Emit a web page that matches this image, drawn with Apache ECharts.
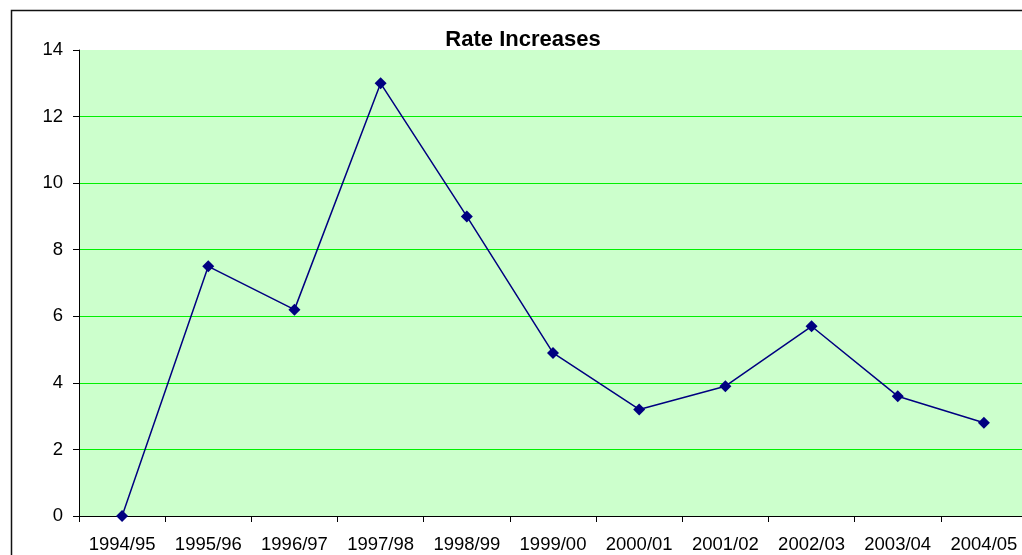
<!DOCTYPE html>
<html>
<head>
<meta charset="utf-8">
<script src="https://cdn.jsdelivr.net/npm/echarts@6/dist/echarts.min.js"></script>
<style>
html,body{margin:0;padding:0;background:#fff;overflow:hidden;width:1022px;height:555px;}
#c{width:1040px;height:555px;}
</style>
</head>
<body>
<div id="c"></div>
<script>
const titleText = 'Rate Increases';
const categories = ['1994/95','1995/96','1996/97','1997/98','1998/99','1999/00','2000/01','2001/02','2002/03','2003/04','2004/05'];
const rateIncreases = [0, 7.5, 6.2, 13, 9, 4.9, 3.2, 3.9, 5.7, 3.6, 2.8];
const yTicks = [0, 2, 4, 6, 8, 10, 12, 14];

const FONT = '"Liberation Sans", Arial, sans-serif';
const chart = echarts.init(document.getElementById('c'), null, {renderer: 'canvas'});
chart.setOption({
  animation: false,
  backgroundColor: '#ffffff',
  title: {
    text: titleText,
    left: 523,
    top: 29,
    padding: 0,
    textAlign: 'center',
    textStyle: {fontFamily: FONT, fontSize: 22, fontWeight: 'bold', color: '#000'}
  },
  graphic: [{
    type: 'rect',
    shape: {x: 11.5, y: 10.5, width: 1200, height: 700},
    style: {fill: 'none', stroke: '#111', lineWidth: 1.5},
    silent: true,
    z: 100
  }],
  grid: {left: 79, top: 50, right: 13, bottom: 39, show: true, backgroundColor: '#CCFFCC', borderWidth: 0},
  xAxis: {
    type: 'category',
    data: categories,
    boundaryGap: true,
    axisLine: {show: true, lineStyle: {color: '#000', width: 1}},
    axisTick: {show: true, length: 6, lineStyle: {color: '#000'}},
    axisLabel: {fontFamily: FONT, fontSize: 18.5, color: '#000', margin: 19, interval: 0},
    splitLine: {show: false}
  },
  yAxis: {
    type: 'value',
    min: yTicks[0],
    max: yTicks[yTicks.length - 1],
    interval: yTicks[1] - yTicks[0],
    axisLine: {show: true, lineStyle: {color: '#000', width: 1}},
    axisTick: {show: true, length: 6, lineStyle: {color: '#000'}},
    axisLabel: {fontFamily: FONT, fontSize: 18.5, color: '#000', margin: 16},
    splitLine: {show: true, showMinLine: false, showMaxLine: false, lineStyle: {color: '#00F000', width: 1}}
  },
  series: [{
    type: 'line',
    data: rateIncreases,
    symbol: 'diamond',
    symbolSize: 12,
    showAllSymbol: true,
    lineStyle: {color: '#000080', width: 1.5},
    itemStyle: {color: '#000080'},
    z: 10
  }]
});
</script>
</body>
</html>
